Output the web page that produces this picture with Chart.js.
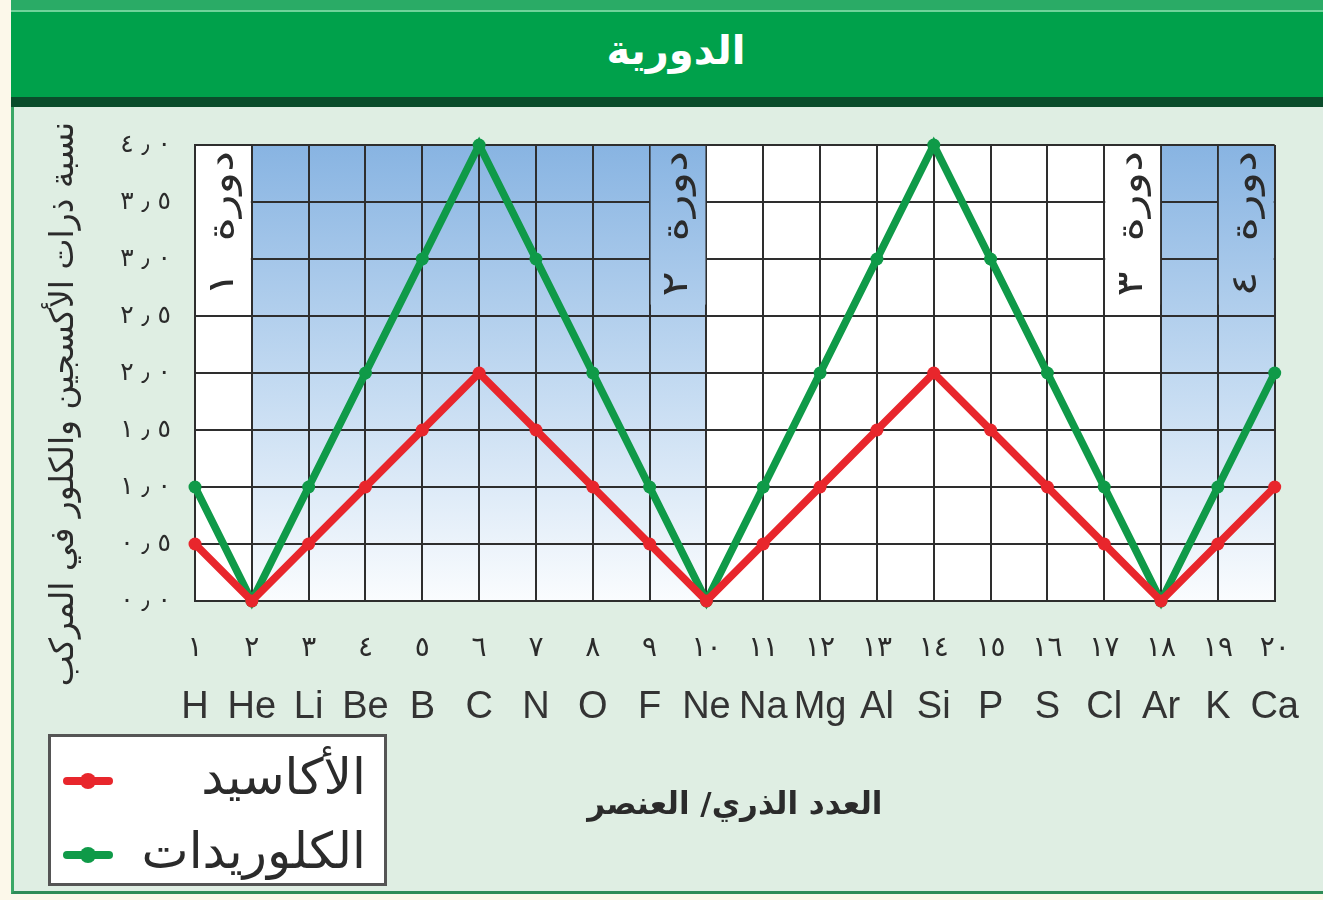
<!DOCTYPE html>
<html>
<head>
<meta charset="utf-8">
<script src="https://cdn.jsdelivr.net/npm/chart.js@4"></script>
<style>
  body { margin: 0; width: 1323px; height: 900px; overflow: hidden; position: relative; background: #fcf8ea; font-family: "DejaVu Sans", sans-serif; }
  #frame { position: absolute; left: 11px; top: 0; width: 1312px; height: 894px; background: #dfeee3; border-left: 3px solid #3aa766; border-bottom: 3px solid #2f8c58; box-sizing: border-box; }
  #head { position: absolute; left: 11px; top: 0; width: 1312px; height: 107px; background: #00a14b; border-top: 10px solid #2aab66; border-bottom: 10px solid #0a4d2b; box-sizing: border-box; }
  #head::before { content: ""; position: absolute; left: 0; right: 0; top: 0; height: 2px; background: #6fd39a; }
  #head div { position: absolute; left: 18px; right: 0; top: 12px; text-align: center; color: #fff; font-size: 40px; font-weight: bold; line-height: 56px; }
  canvas { position: absolute; left: 0; top: 0; }
  #legend { position: absolute; left: 48px; top: 734px; width: 339px; height: 152px; background: #fff; border: 3px solid #555; box-sizing: border-box; }
  #legend .row { position: absolute; left: 0; right: 0; height: 60px; }
  #legend .mark { position: absolute; left: 12px; top: 26px; width: 50px; height: 8px; border-radius: 4px; }
  #legend .mark i { position: absolute; left: 17px; top: -4px; width: 16px; height: 16px; border-radius: 50%; background: inherit; }
  #legend .txt { position: absolute; right: 18px; top: -4px; line-height: 60px; font-size: 50px; color: #2b2b2b; direction: rtl; }
</style>
</head>
<body>
<div id="frame"></div>
<div id="head"><div>الدورية</div></div>
<canvas id="chart" width="1323" height="900"></canvas>
<div id="legend"></div>
<script>
const elements = ['H', 'He', 'Li', 'Be', 'B', 'C', 'N', 'O', 'F', 'Ne',
  'Na', 'Mg', 'Al', 'Si', 'P', 'S', 'Cl', 'Ar', 'K', 'Ca'];
const atomicNumbers = ['١', '٢', '٣', '٤', '٥', '٦', '٧', '٨', '٩', '١٠',
  '١١', '١٢', '١٣', '١٤', '١٥', '١٦', '١٧', '١٨', '١٩', '٢٠'];
const oxides = [0.5, 0, 0.5, 1, 1.5, 2, 1.5, 1, 0.5, 0, 0.5, 1, 1.5, 2, 1.5, 1, 0.5, 0, 0.5, 1];
const chlorides = [1, 0, 1, 2, 3, 4, 3, 2, 1, 0, 1, 2, 3, 4, 3, 2, 1, 0, 1, 2];
const yLabels = ['٠٫٠', '٠٫٥', '١٫٠', '١٫٥', '٢٫٠', '٢٫٥', '٣٫٠', '٣٫٥', '٤٫٠'];
const periodLabels = ['دورة ١', 'دورة ٢', 'دورة ٣', 'دورة ٤'];
const periodColumns = [1, 9, 17, 19];   // atomic number at the left of each label column
const shadedRanges = [[2, 10], [18, 20]];
const yTitle = 'نسبة ذرات الأكسجين والكلور في المركب';
const xTitle = 'العدد الذري/ العنصر';

const ink = '#2b2b2b';

// keep the digits in reading order while spacing them out like the book
const spaced = s => s.split('٫').join('\u200E ٫ \u200E');

function blueGradient(ctx, area) {
  const g = ctx.createLinearGradient(0, area.top, 0, area.bottom);
  g.addColorStop(0, '#88b4e2');
  g.addColorStop(0.55, '#c6dcf2');
  g.addColorStop(1, '#fafcfe');
  return g;
}

// background shading, period labels and the y title
const periods = {
  id: 'periods',
  beforeDraw(chart) {
    const { ctx, chartArea: a, scales: { x } } = chart;
    ctx.save();
    ctx.fillStyle = '#fff';
    ctx.fillRect(a.left, a.top, a.width, a.height);
    ctx.fillStyle = blueGradient(ctx, a);
    shadedRanges.forEach(([from, to]) => {
      const x0 = x.getPixelForValue(from - 1);
      const x1 = x.getPixelForValue(to - 1);
      ctx.fillRect(x0, a.top, x1 - x0, a.height);
    });

    ctx.translate(64, 404);
    ctx.rotate(-Math.PI / 2);
    ctx.direction = 'rtl';
    ctx.textAlign = 'center';
    ctx.textBaseline = 'middle';
    ctx.fillStyle = ink;
    ctx.font = '33px "DejaVu Sans"';
    ctx.fillText(yTitle, 0, 0);
    ctx.restore();
  },
  beforeDatasetsDraw(chart) {
    const { ctx, chartArea: a, scales: { x, y } } = chart;
    ctx.save();
    periodLabels.forEach((label, i) => {
      const n = periodColumns[i];
      const x0 = x.getPixelForValue(n - 1) + 1;
      const x1 = x.getPixelForValue(n) - 1;
      const y0 = y.getPixelForValue(4) + 1;
      const y1 = y.getPixelForValue(2.6);
      const shaded = shadedRanges.some(([f, t]) => n >= f && n < t);
      ctx.fillStyle = shaded ? blueGradient(ctx, a) : '#fff';
      ctx.fillRect(x0, y0, x1 - x0, y1 - y0);

      // the book sets these labels stretched along the column
      ctx.save();
      ctx.translate((x0 + x1) / 2, y0 + 5);
      ctx.rotate(-Math.PI / 2);
      ctx.scale(1.3, 1);
      ctx.direction = 'rtl';
      ctx.textAlign = 'right';
      ctx.textBaseline = 'middle';
      ctx.fillStyle = ink;
      ctx.font = '36px "DejaVu Sans"';
      ctx.fillText(label.replace(' ', '  '), 0, 0);
      ctx.restore();
    });
    ctx.restore();
  }
};

const chart = new Chart(document.getElementById('chart'), {
  type: 'line',
  data: {
    labels: elements,
    datasets: [{
      label: 'الأكاسيد',
      data: oxides,
      borderColor: '#e8262c',
      backgroundColor: '#e8262c',
      borderWidth: 7.5,
      pointRadius: 6.5,
      pointBorderWidth: 0,
      tension: 0,
      clip: false
    }, {
      label: 'الكلوريدات',
      data: chlorides,
      borderColor: '#0f9a48',
      backgroundColor: '#0f9a48',
      borderWidth: 7.5,
      pointRadius: 6.5,
      pointBorderWidth: 0,
      tension: 0,
      clip: false
    }]
  },
  options: {
    responsive: false,
    animation: false,
    layout: { padding: { left: 100, right: 46, top: 145, bottom: 75 } },
    plugins: { legend: { display: false }, tooltip: { enabled: false } },
    scales: {
      x: {
        type: 'category',
        offset: false,
        weight: 0,
        afterFit: s => { s.height = 60; },
        grid: { color: '#2e2e2e', lineWidth: 2, drawTicks: false },
        border: { color: '#2e2e2e', width: 2 },
        ticks: {
          autoSkip: false, maxRotation: 0, padding: 31, color: ink,
          font: { family: 'DejaVu Sans', size: 28 },
          callback: (v, i) => atomicNumbers[i]
        }
      },
      xs: {
        type: 'category',
        position: 'bottom',
        offset: false,
        weight: 1,
        afterFit: s => { s.height = 164; },
        grid: { display: false, drawTicks: false },
        border: { display: false },
        ticks: {
          autoSkip: false, maxRotation: 0, padding: 24, color: '#333',
          font: { family: 'Liberation Sans', size: 38 }
        },
        title: {
          display: true, text: xTitle, color: ink, padding: 0,
          font: { family: 'DejaVu Sans', size: 31, weight: 'bold' }
        }
      },
      y: {
        min: 0, max: 4,
        afterFit: s => { s.width = 95; },
        grid: { color: '#2e2e2e', lineWidth: 2, drawTicks: false },
        border: { color: '#2e2e2e', width: 2 },
        ticks: {
          stepSize: 0.5, padding: 24, color: ink,
          font: { family: 'DejaVu Sans', size: 25 },
          callback: v => spaced(yLabels[Math.round(v * 2)])
        }
      }
    }
  },
  plugins: [periods]
});

// legend built from the datasets, marker left and label right as in the book
const legend = document.getElementById('legend');
chart.data.datasets.forEach((ds, i) => {
  const row = document.createElement('div');
  row.className = 'row';
  row.style.top = (14 + i * 74) + 'px';
  row.innerHTML = '<span class="mark" style="background:' + ds.borderColor + '"><i></i></span>' +
    '<span class="txt">' + ds.label + '</span>';
  legend.appendChild(row);
});
</script>
</body>
</html>
